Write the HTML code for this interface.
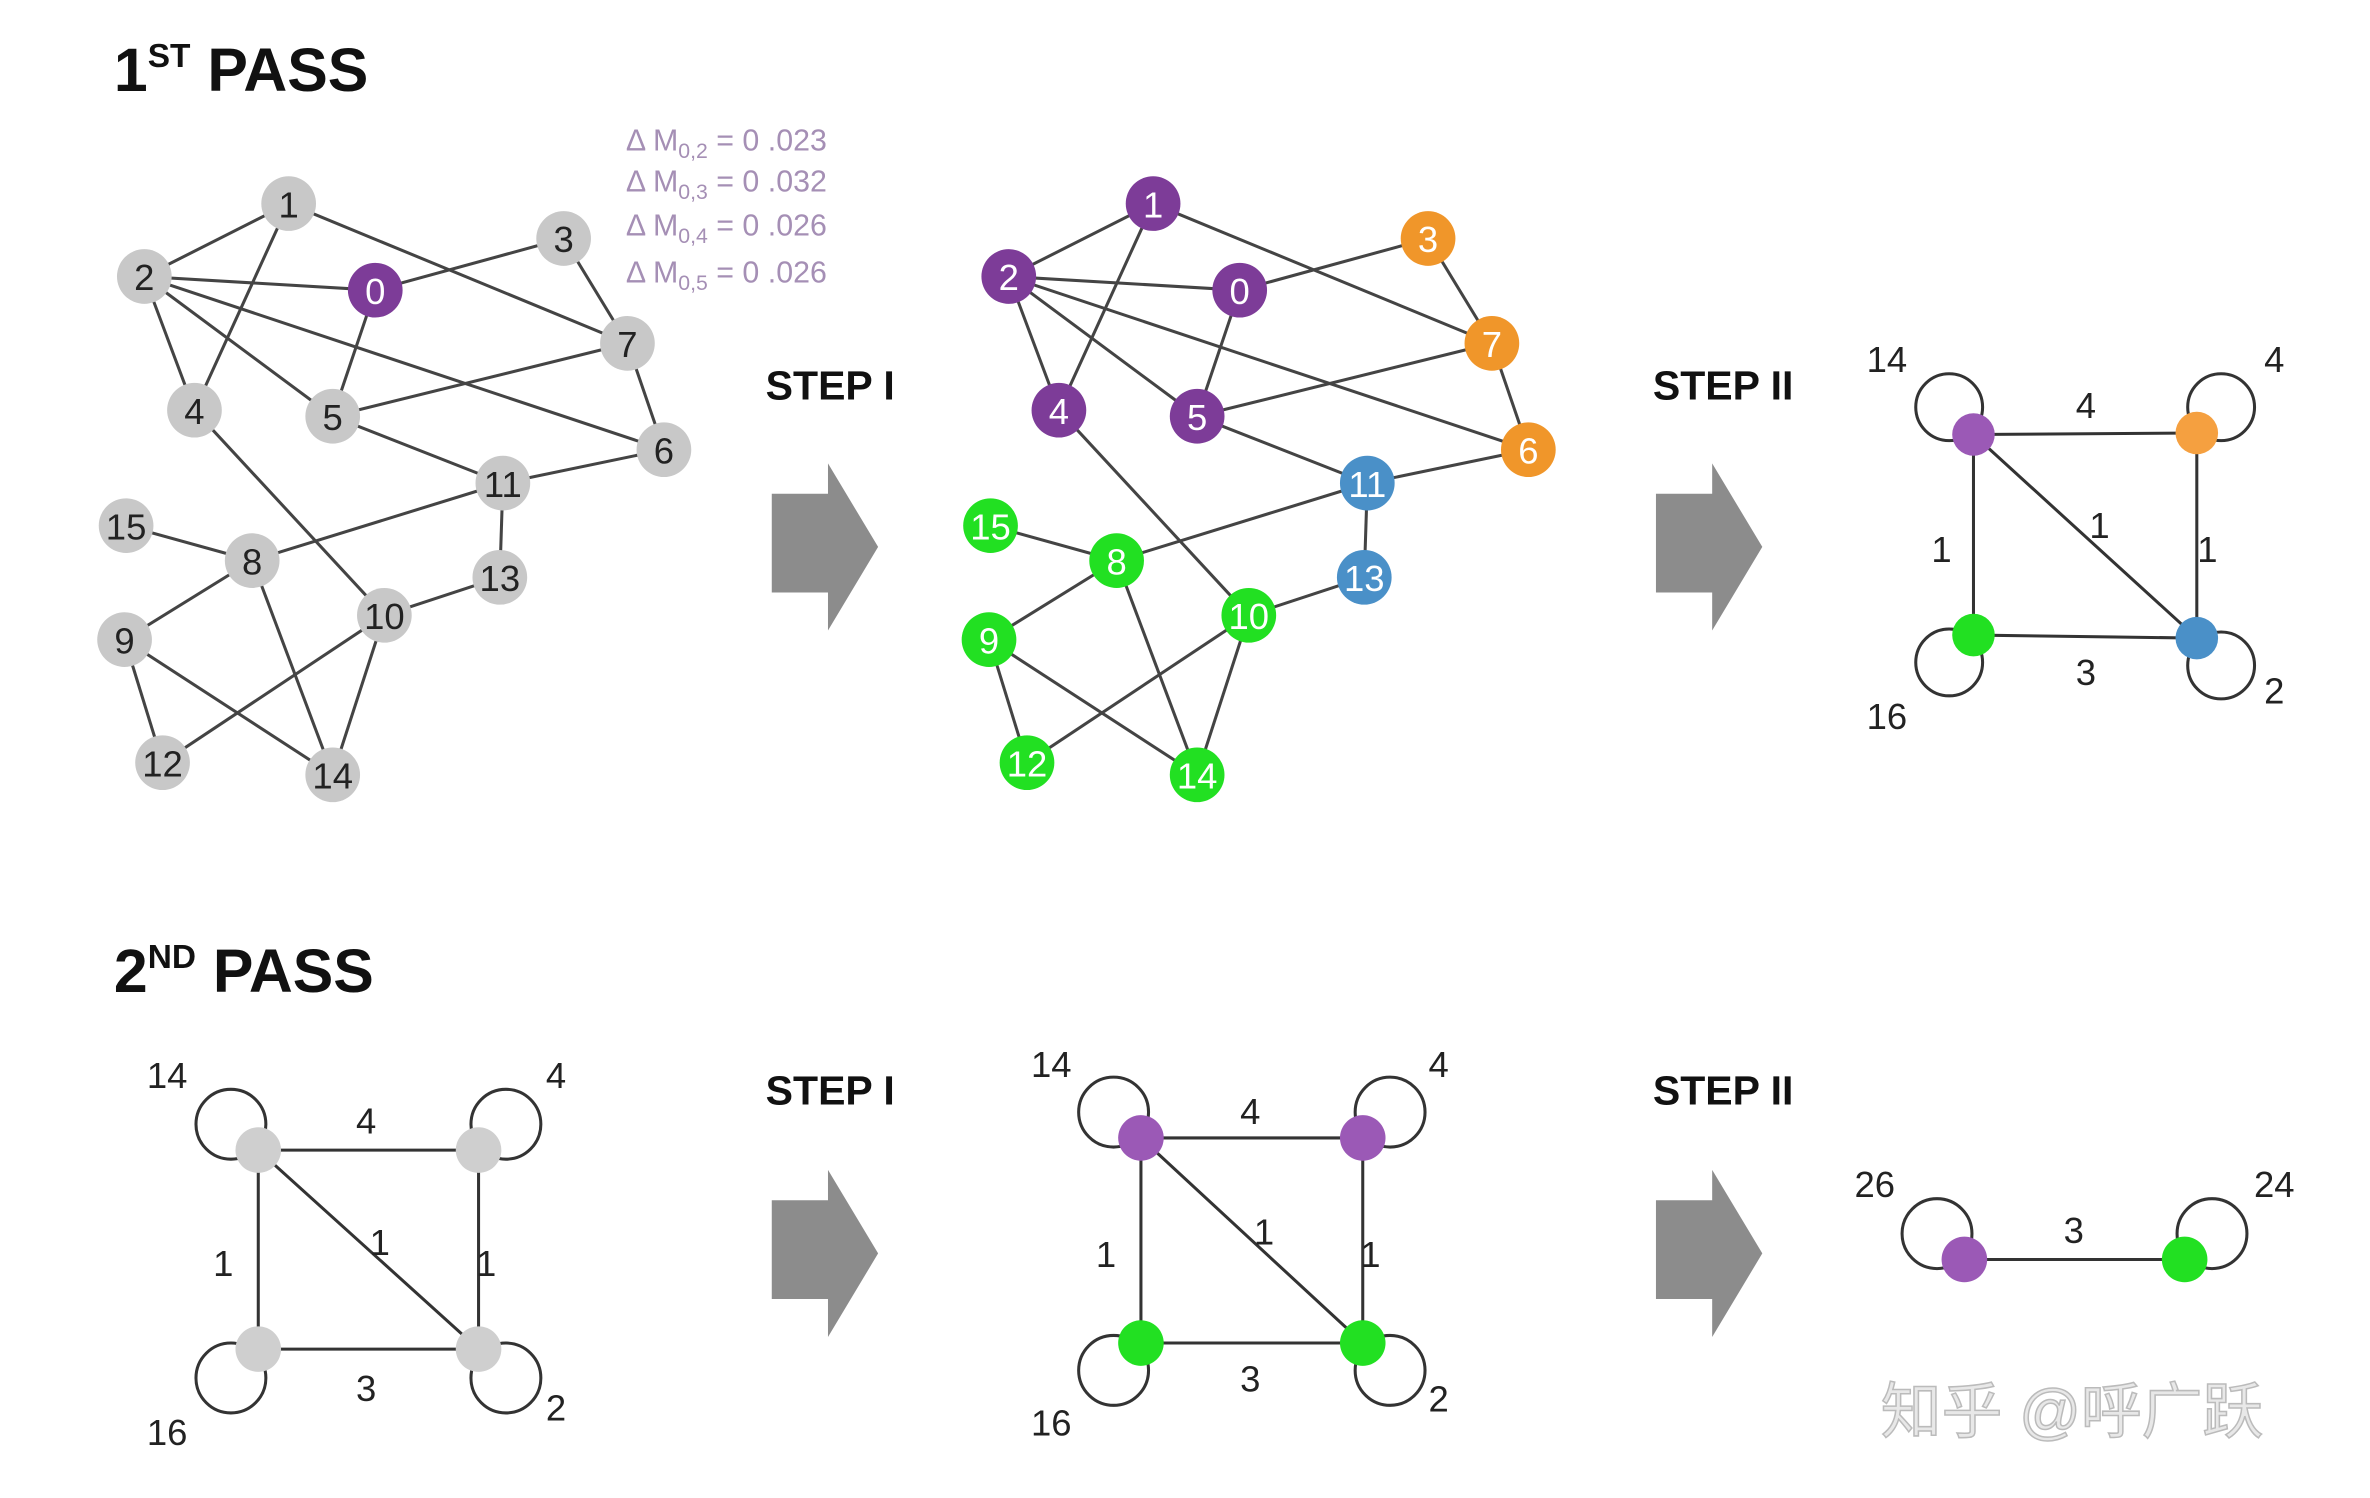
<!DOCTYPE html>
<html><head><meta charset="utf-8"><style>
html,body{margin:0;padding:0;background:#fff}
svg{display:block}
text{font-family:"Liberation Sans","Noto Sans CJK SC",sans-serif}
</style></head><body>
<svg width="2370" height="1498" viewBox="0 0 1560 986" preserveAspectRatio="none" xmlns="http://www.w3.org/2000/svg">
<rect width="1560" height="986" fill="#fff"/>
<defs>
<g id="arrow"><polygon points="0,20 37,20 37,0 70,55 37,110 37,85 0,85" fill="#8c8c8c"/></g>
</defs>
<!-- titles -->
<text x="75" y="60" font-size="40" font-weight="bold" fill="#111">1<tspan font-size="22" dy="-16">ST</tspan><tspan dy="16"> PASS</tspan></text>
<text x="75" y="653" font-size="40" font-weight="bold" fill="#111">2<tspan font-size="22" dy="-16">ND</tspan><tspan dy="16"> PASS</tspan></text>
<g font-size="20" fill="#a58fb5">
<text x="412" y="99">Δ M<tspan font-size="14" dy="5">0,2</tspan><tspan dy="-5"> = 0 .023</tspan></text>
<text x="412" y="126">Δ M<tspan font-size="14" dy="5">0,3</tspan><tspan dy="-5"> = 0 .032</tspan></text>
<text x="412" y="155">Δ M<tspan font-size="14" dy="5">0,4</tspan><tspan dy="-5"> = 0 .026</tspan></text>
<text x="412" y="186">Δ M<tspan font-size="14" dy="5">0,5</tspan><tspan dy="-5"> = 0 .026</tspan></text>
</g>
<g font-size="27" font-weight="bold" fill="#111">
<text x="504" y="263">STEP I</text>
<text x="1088" y="263">STEP II</text>
<text x="504" y="727">STEP I</text>
<text x="1088" y="727">STEP II</text>
</g>
<use href="#arrow" x="508" y="305"/>
<use href="#arrow" x="1090" y="305"/>
<use href="#arrow" x="508" y="770"/>
<use href="#arrow" x="1090" y="770"/>

<!-- graph 1 -->
<g id="g1" stroke="#444" stroke-width="2">
<line x1="190" y1="134" x2="95" y2="182"/><line x1="190" y1="134" x2="128" y2="270"/><line x1="190" y1="134" x2="413" y2="226"/>
<line x1="95" y1="182" x2="247" y2="191"/><line x1="95" y1="182" x2="128" y2="270"/><line x1="95" y1="182" x2="219" y2="274"/><line x1="95" y1="182" x2="437" y2="296"/>
<line x1="247" y1="191" x2="371" y2="157"/><line x1="247" y1="191" x2="219" y2="274"/>
<line x1="371" y1="157" x2="413" y2="226"/><line x1="413" y1="226" x2="437" y2="296"/><line x1="413" y1="226" x2="219" y2="274"/>
<line x1="219" y1="274" x2="331" y2="318"/><line x1="331" y1="318" x2="437" y2="296"/><line x1="331" y1="318" x2="166" y2="369"/><line x1="331" y1="318" x2="329" y2="380"/>
<line x1="329" y1="380" x2="253" y2="405"/><line x1="128" y1="270" x2="253" y2="405"/>
<line x1="83" y1="346" x2="166" y2="369"/><line x1="166" y1="369" x2="82" y2="421"/><line x1="166" y1="369" x2="219" y2="510"/>
<line x1="82" y1="421" x2="107" y2="502"/><line x1="82" y1="421" x2="219" y2="510"/>
<line x1="107" y1="502" x2="253" y2="405"/><line x1="253" y1="405" x2="219" y2="510"/>
</g>
<g font-size="24" fill="#222" text-anchor="middle">
<g fill="#c8c8c8">
<circle cx="190" cy="134" r="18"/><circle cx="95" cy="182" r="18"/><circle cx="371" cy="157" r="18"/><circle cx="413" cy="226" r="18"/><circle cx="128" cy="270" r="18"/><circle cx="219" cy="274" r="18"/><circle cx="437" cy="296" r="18"/><circle cx="331" cy="318" r="18"/><circle cx="83" cy="346" r="18"/><circle cx="166" cy="369" r="18"/><circle cx="329" cy="380" r="18"/><circle cx="253" cy="405" r="18"/><circle cx="82" cy="421" r="18"/><circle cx="107" cy="502" r="18"/><circle cx="219" cy="510" r="18"/>
</g>
<circle cx="247" cy="191" r="18" fill="#7d3c98"/>
<text x="190" y="143">1</text><text x="95" y="191">2</text><text x="247" y="200" fill="#fff">0</text><text x="371" y="166">3</text><text x="413" y="235">7</text><text x="128" y="279">4</text><text x="219" y="283">5</text><text x="437" y="305">6</text><text x="331" y="327">11</text><text x="83" y="355">15</text><text x="166" y="378">8</text><text x="329" y="389">13</text><text x="253" y="414">10</text><text x="82" y="430">9</text><text x="107" y="511">12</text><text x="219" y="519">14</text>
</g>

<!-- graph 2 (middle) -->
<g transform="translate(569,0)">
<use href="#g1"/>
<g font-size="24" fill="#fff" text-anchor="middle">
<g fill="#7d3c98"><circle cx="190" cy="134" r="18"/><circle cx="95" cy="182" r="18"/><circle cx="247" cy="191" r="18"/><circle cx="128" cy="270" r="18"/><circle cx="219" cy="274" r="18"/></g>
<g fill="#f0962a"><circle cx="371" cy="157" r="18"/><circle cx="413" cy="226" r="18"/><circle cx="437" cy="296" r="18"/></g>
<g fill="#4a90c8"><circle cx="331" cy="318" r="18"/><circle cx="329" cy="380" r="18"/></g>
<g fill="#22e022"><circle cx="83" cy="346" r="18"/><circle cx="166" cy="369" r="18"/><circle cx="253" cy="405" r="18"/><circle cx="82" cy="421" r="18"/><circle cx="107" cy="502" r="18"/><circle cx="219" cy="510" r="18"/></g>
<text x="190" y="143">1</text><text x="95" y="191">2</text><text x="247" y="200">0</text><text x="371" y="166">3</text><text x="413" y="235">7</text><text x="128" y="279">4</text><text x="219" y="283">5</text><text x="437" y="305">6</text><text x="331" y="327">11</text><text x="83" y="355">15</text><text x="166" y="378">8</text><text x="329" y="389">13</text><text x="253" y="414">10</text><text x="82" y="430">9</text><text x="107" y="511">12</text><text x="219" y="519">14</text>
</g>
</g>

<!-- square graphs -->
<g stroke="#333" stroke-width="2" fill="none">
<!-- 1st pass step II -->
<circle cx="1283" cy="268" r="22"/><circle cx="1462" cy="268" r="22"/><circle cx="1283" cy="436" r="22"/><circle cx="1462" cy="438" r="22"/>
<line x1="1299" y1="286" x2="1446" y2="285"/><line x1="1299" y1="286" x2="1299" y2="418"/><line x1="1446" y1="285" x2="1446" y2="420"/><line x1="1299" y1="418" x2="1446" y2="420"/><line x1="1299" y1="286" x2="1446" y2="420"/>
<!-- 2nd pass left -->
<circle cx="152" cy="740" r="23"/><circle cx="333" cy="740" r="23"/><circle cx="152" cy="907" r="23"/><circle cx="333" cy="907" r="23"/>
<line x1="170" y1="757" x2="315" y2="757"/><line x1="170" y1="757" x2="170" y2="888"/><line x1="315" y1="757" x2="315" y2="888"/><line x1="170" y1="888" x2="315" y2="888"/><line x1="170" y1="757" x2="315" y2="888"/>
<!-- 2nd pass middle -->
<circle cx="733" cy="732" r="23"/><circle cx="915" cy="732" r="23"/><circle cx="733" cy="902" r="23"/><circle cx="915" cy="902" r="23"/>
<line x1="751" y1="749" x2="897" y2="749"/><line x1="751" y1="749" x2="751" y2="884"/><line x1="897" y1="749" x2="897" y2="884"/><line x1="751" y1="884" x2="897" y2="884"/><line x1="751" y1="749" x2="897" y2="884"/>
<!-- 2nd pass right -->
<circle cx="1275" cy="812" r="23"/><circle cx="1456" cy="812" r="23"/>
<line x1="1293" y1="829" x2="1438" y2="829"/>
</g>
<g>
<circle cx="1299" cy="286" r="14" fill="#9b59b6"/><circle cx="1446" cy="285" r="14" fill="#f5a040"/><circle cx="1299" cy="418" r="14" fill="#22e022"/><circle cx="1446" cy="420" r="14" fill="#4a90c8"/>
<g fill="#cfcfcf"><circle cx="170" cy="757" r="15"/><circle cx="315" cy="757" r="15"/><circle cx="170" cy="888" r="15"/><circle cx="315" cy="888" r="15"/></g>
<circle cx="751" cy="749" r="15" fill="#9b59b6"/><circle cx="897" cy="749" r="15" fill="#9b59b6"/><circle cx="751" cy="884" r="15" fill="#22e022"/><circle cx="897" cy="884" r="15" fill="#22e022"/>
<circle cx="1293" cy="829" r="15" fill="#9b59b6"/><circle cx="1438" cy="829" r="15" fill="#22e022"/>
</g>
<g font-size="24" fill="#222" text-anchor="middle">
<text x="1242" y="245">14</text><text x="1497" y="245">4</text><text x="1242" y="480">16</text><text x="1497" y="463">2</text>
<text x="1373" y="275">4</text><text x="1278" y="370">1</text><text x="1382" y="354">1</text><text x="1453" y="370">1</text><text x="1373" y="451">3</text>
<text x="110" y="716">14</text><text x="366" y="716">4</text><text x="110" y="951">16</text><text x="366" y="935">2</text>
<text x="241" y="746">4</text><text x="147" y="840">1</text><text x="250" y="826">1</text><text x="320" y="840">1</text><text x="241" y="922">3</text>
<text x="692" y="709">14</text><text x="947" y="709">4</text><text x="692" y="945">16</text><text x="947" y="929">2</text>
<text x="823" y="740">4</text><text x="728" y="834">1</text><text x="832" y="819">1</text><text x="902" y="834">1</text><text x="823" y="916">3</text>
<text x="1234" y="788">26</text><text x="1497" y="788">24</text><text x="1365" y="818">3</text>
</g>
<text x="1238" y="943" font-size="40" fill="#e8e8e8" stroke="#bbb" stroke-width="1">知乎 @呼广跃</text>
</svg>
</body></html>
